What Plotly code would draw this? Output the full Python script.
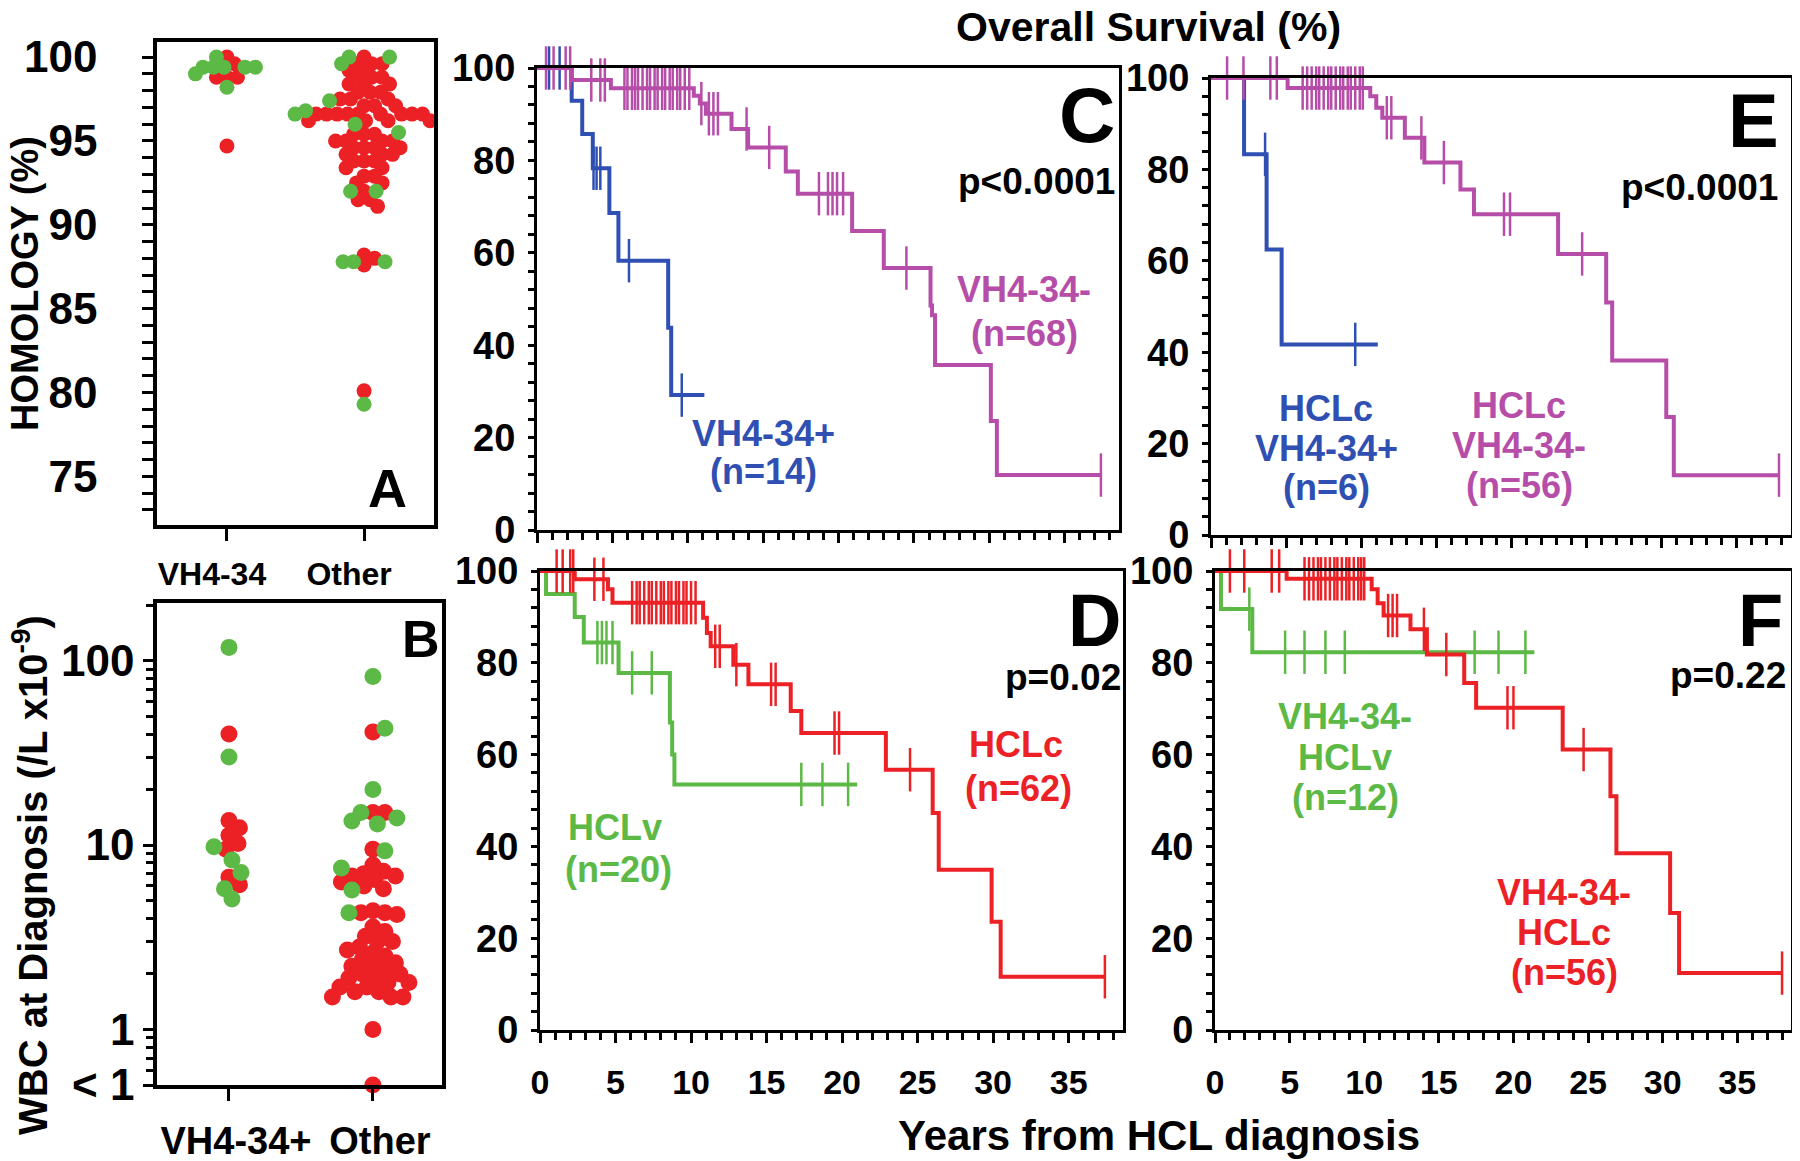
import numpy as np
import plotly.graph_objects as go

# The page body has an 8px margin, so the figure is drawn 8px smaller and
# all pixel positions below are page positions converted with that offset.
OFF = 8
W, H = 1800 - OFF, 1161 - OFF
FONT = "Liberation Sans, Arial, Helvetica, sans-serif"

GREEN = "#5DB946"
RED = "#EC2125"
MAGENTA = "#B64DA8"
BLUE = "#2F50B2"

# ---------------- Panel A: homology (%) ----------------
a_categories = ["VH4-34", "Other"]
a_vh_red = [100.0, 99.6, 98.8, 98.8, 98.8, 94.7]
a_vh_green = [100.0, 99.4, 99.4, 99.4, 99.4, 99.4, 99.0, 98.2]
a_oth_red = [100.0, 99.6, 99.6, 99.6, 99.2, 99.2, 98.8, 98.8, 98.8, 98.4, 98.4, 98.4,
             97.9, 97.9, 97.9, 97.5, 97.5, 97.5, 97.1, 97.1, 97.1,
             96.6, 96.6, 96.6, 96.6, 96.6, 96.6, 96.6, 96.6, 96.6,
             96.2, 96.2, 96.2, 96.2, 95.4, 95.4, 95.4, 95.0, 95.0, 95.0, 95.0,
             94.6, 94.6, 94.6, 94.6, 94.2, 94.2, 94.2, 93.8, 93.8, 93.8, 93.4, 93.4,
             92.9, 92.9, 92.5, 92.5, 92.0, 91.5, 91.5, 91.1,
             88.2, 88.0, 87.6, 80.1]
a_oth_green = [100.0, 100.0, 99.6, 97.4, 96.6, 96.0, 96.8, 95.5, 92.0, 92.0,
               87.8, 87.8, 87.8, 79.3]

# ---------------- Panel B: WBC at diagnosis ----------------
b_categories = ["VH4-34+", "Other"]
b_vh_red = [40, 13.6, 12.4, 11.3, 10.2, 9.5, 6.7, 6.1]
b_vh_green = [118, 30, 9.8, 8.3, 7.1, 5.8, 5.1]
b_oth_red = [41, 15, 15, 9.5, 7.8, 7.2, 7.0, 6.8, 6.8, 6.5, 6.3, 6.0, 5.8,
             4.4, 4.3, 4.3, 4.2, 3.6, 3.4, 3.2, 3.0, 3.0, 2.8, 2.7, 2.6, 2.5, 2.4,
             2.3, 2.2, 2.2, 2.1, 2.0, 2.0, 1.9, 1.9, 1.8, 1.8, 1.7, 1.7, 1.6, 1.6,
             1.5, 1.5, 1.5, 1.0, 0.5]
b_oth_green = [82, 43, 20, 15, 14, 13.5, 13, 9.3, 7.5, 5.7, 4.3]

# ---------------- Kaplan-Meier curves (years, % survival) ----------------
c_blue_t = [2.3, 3.0, 3.7, 4.8, 5.4, 8.7, 8.9]
c_blue_s = [92.9, 85.7, 78.3, 68.6, 58.3, 43.8, 29.2]
c_blue_end = 11.1
c_blue_cens = [0.8, 1.5, 3.75, 3.95, 4.2, 6.1, 9.6]

c_mag_t = [2.3, 4.9, 10.4, 10.8, 11.2, 12.9, 14.0, 16.5, 17.3, 20.9, 23.0, 26.1, 26.2, 26.4, 30.1, 30.5]
c_mag_s = [97.4, 95.6, 94.0, 92.3, 90.1, 86.8, 82.8, 77.6, 72.8, 64.7, 56.7, 48.6, 46.5, 35.7, 23.6, 11.9]
c_mag_end = 37.4
c_mag_cens = [0.6, 1.1, 1.9, 2.2, 3.6, 4.2, 4.5,
              5.8, 6.0, 6.3, 6.5, 6.7, 7.0, 7.3, 7.5, 7.8, 8.0, 8.3, 8.5, 8.8, 9.0, 9.3, 9.5, 9.8, 10.1,
              10.9, 11.4, 11.7, 12.0, 13.9, 15.4, 18.7, 19.3, 19.6, 19.9, 20.3, 24.5, 37.4]

d_green_t = [0.4, 2.3, 2.9, 5.2, 8.6, 8.75, 8.9]
d_green_s = [95.0, 90.0, 84.4, 77.8, 67.0, 60.0, 53.5]
d_green_end = 21.0
d_green_cens = [3.8, 4.1, 4.4, 4.8, 6.1, 7.4, 17.3, 18.7, 20.4]

d_red_t = [2.3, 4.5, 4.8, 10.8, 11.05, 11.3, 12.8, 13.8, 16.6, 17.3, 22.9, 26.0, 26.4, 29.9, 30.5]
d_red_s = [98.2, 96.0, 93.1, 89.8, 86.5, 83.6, 79.6, 75.3, 69.5, 64.7, 56.7, 47.3, 34.9, 23.6, 11.6]
d_red_end = 37.4
d_red_cens = [1.1, 1.5, 2.0, 2.2, 3.6, 4.2,
              6.1, 6.4, 6.6, 6.9, 7.2, 7.4, 7.7, 8.0, 8.2, 8.5, 8.7, 9.0, 9.2, 9.5, 9.7, 10.0, 10.3,
              11.6, 11.9, 13.0, 15.3, 15.6, 19.5, 19.8, 24.5, 37.4]

e_blue_t = [2.2, 3.7, 4.7]
e_blue_s = [83.3, 62.5, 41.7]
e_blue_end = 11.1
e_blue_cens = [3.6, 9.6]

e_mag_t = [5.1, 10.6, 11.0, 11.4, 12.9, 14.2, 16.6, 17.5, 23.1, 26.3, 26.7, 30.3, 30.8]
e_mag_s = [97.8, 96.0, 93.5, 91.3, 86.9, 81.5, 75.6, 70.2, 61.5, 50.9, 38.2, 25.8, 13.1]
e_mag_end = 37.8
e_mag_cens = [1.07, 2.16, 3.95, 4.38,
              6.1, 6.4, 6.7, 7.0, 7.2, 7.5, 7.8, 8.0, 8.3, 8.6, 8.8, 9.1, 9.3, 9.6, 9.9, 10.1,
              11.7, 12.0, 14.0, 15.5, 19.5, 19.9, 24.7, 37.8]

f_green_t = [0.4, 2.5]
f_green_s = [91.7, 82.3]
f_green_end = 21.4
f_green_cens = [2.3, 4.7, 6.0, 7.4, 8.7, 17.4, 19.0, 20.8]

f_red_t = [4.8, 10.5, 10.9, 11.3, 13.1, 14.2, 16.7, 17.5, 23.3, 26.5, 26.9, 30.5, 31.1]
f_red_s = [98.3, 96.0, 93.0, 90.3, 87.3, 81.8, 75.6, 70.2, 61.1, 50.9, 38.5, 25.5, 12.4]
f_red_end = 38.0
f_red_cens = [1.0, 1.96, 3.8, 4.3,
              6.0, 6.3, 6.6, 6.9, 7.1, 7.4, 7.7, 8.0, 8.2, 8.5, 8.8, 9.0, 9.3, 9.6, 9.8, 10.0,
              11.6, 11.9, 12.2, 14.0, 15.5, 19.6, 20.0, 24.7, 38.0]

km_xticks = [0, 5, 10, 15, 20, 25, 30, 35]
km_yticks = [0, 20, 40, 60, 80, 100]
a_yticks = [75, 80, 85, 90, 95, 100]
b_yticks = [0.5, 1, 10, 100]
b_yticktext = ["< 1", "1", "10", "100"]

# ---------------- layout geometry (page pixels) ----------------
BOX = {
    "A": (157, 434, 42, 525),
    "B": (157, 442, 603, 1085),
    "C": (537, 1119, 68, 530),
    "E": (1211, 1791, 78, 535),
    "D": (540, 1123, 571, 1030),
    "F": (1215, 1791, 571, 1030),
}
A_XR = [-0.51, 1.51]
A_YR = [72.1, 100.9]
B_XR = [-0.5, 1.48]
B_YR = [np.log10(0.5), 2.3125]
KM_XR = [0, 38.6]
KM_YR = [0, 100]


def px2x(px):
    return (px - OFF) / W


def px2y(py):
    return 1 - (py - OFF) / H


def dx(l, r):
    return [px2x(l), px2x(r)]


def dy(t, b):
    return [px2y(b), px2y(t)]


def swarm(groups, center, xpu, ypu, transform, d=11.0, step=1.5):
    """Beeswarm offsets computed in pixel space."""
    placed = []
    res = []
    for vals, col in groups:
        order = sorted(vals, reverse=True)
        xs = []
        for v in order:
            yp = transform(v) * ypu
            k = 0
            while True:
                cands = [0.0] if k == 0 else [k * step, -k * step]
                ok = None
                for c in cands:
                    if all((c - px) ** 2 + (yp - py) ** 2 >= d * d for px, py in placed):
                        ok = c
                        break
                if ok is not None:
                    placed.append((ok, yp))
                    xs.append(center + ok / xpu)
                    break
                k += 1
        res.append((xs, order, col))
    return res


fig = go.Figure()

# Panel A
a_xpu = (BOX["A"][1] - BOX["A"][0]) / (A_XR[1] - A_XR[0])
a_ypu = (BOX["A"][3] - BOX["A"][2]) / (A_YR[1] - A_YR[0])
for ci, (reds, greens) in enumerate([(a_vh_red, a_vh_green), (a_oth_red, a_oth_green)]):
    for xs, ys, col in swarm([(reds, RED), (greens, GREEN)], ci, a_xpu, a_ypu, lambda v: v, d=10.0):
        fig.add_trace(go.Scatter(x=xs, y=ys, mode="markers", xaxis="x", yaxis="y",
                                 marker=dict(color=col, size=15, line=dict(width=0)),
                                 showlegend=False, cliponaxis=False))

# Panel B
b_xpu = (BOX["B"][1] - BOX["B"][0]) / (B_XR[1] - B_XR[0])
b_ypu = (BOX["B"][3] - BOX["B"][2]) / (B_YR[1] - B_YR[0])
for ci, (reds, greens) in enumerate([(b_vh_red, b_vh_green), (b_oth_red, b_oth_green)]):
    for xs, ys, col in swarm([(reds, RED), (greens, GREEN)], ci, b_xpu, b_ypu, np.log10, d=12.0):
        fig.add_trace(go.Scatter(x=xs, y=ys, mode="markers", xaxis="x2", yaxis="y2",
                                 marker=dict(color=col, size=17, line=dict(width=0)),
                                 showlegend=False, cliponaxis=False))


def km(t, s, end, cens, col, xa, ya):
    xs = [0] + list(t) + [end]
    ys = [100] + list(s) + [s[-1]]
    fig.add_trace(go.Scatter(x=xs, y=ys, mode="lines", line=dict(color=col, width=4, shape="hv"),
                             xaxis=xa, yaxis=ya, showlegend=False, cliponaxis=False))
    tt = np.array(t)
    cy = []
    for c in cens:
        idx = np.searchsorted(tt, c, side="right") - 1
        cy.append(100 if idx < 0 else s[idx])
    fig.add_trace(go.Scatter(x=cens, y=cy, mode="markers", xaxis=xa, yaxis=ya, showlegend=False,
                             marker=dict(symbol="line-ns", size=31, line=dict(width=2.5, color=col)),
                             cliponaxis=False))


km(c_blue_t, c_blue_s, c_blue_end, c_blue_cens, BLUE, "x3", "y3")
km(c_mag_t, c_mag_s, c_mag_end, c_mag_cens, MAGENTA, "x3", "y3")
km(e_blue_t, e_blue_s, e_blue_end, e_blue_cens, BLUE, "x4", "y4")
km(e_mag_t, e_mag_s, e_mag_end, e_mag_cens, MAGENTA, "x4", "y4")
km(d_green_t, d_green_s, d_green_end, d_green_cens, GREEN, "x5", "y5")
km(d_red_t, d_red_s, d_red_end, d_red_cens, RED, "x5", "y5")
km(f_green_t, f_green_s, f_green_end, f_green_cens, GREEN, "x6", "y6")
km(f_red_t, f_red_s, f_red_end, f_red_cens, RED, "x6", "y6")


def tfont(size, color="black", family=FONT):
    return dict(family=family, size=size, color=color, weight="bold")


axis_common = dict(showline=True, linecolor="black", linewidth=3.5, mirror=True, ticks="outside",
                   tickcolor="black", showgrid=False, zeroline=False, fixedrange=True,
                   automargin=False)

layout = dict(width=W, height=H, margin=dict(l=0, r=0, t=0, b=0, autoexpand=False),
              paper_bgcolor="white", plot_bgcolor="white", showlegend=False)

# A axes
layout["xaxis"] = dict(axis_common, domain=dx(*BOX["A"][:2]), range=A_XR, anchor="y",
                       tickvals=[0, 1], ticktext=a_categories, ticklen=12, tickwidth=3,
                       tickfont=tfont(32), ticklabelstandoff=6, ticklabelshift=-15)
layout["yaxis"] = dict(axis_common, domain=dy(*BOX["A"][2:]), range=A_YR, anchor="x",
                       tickvals=a_yticks, ticklen=11, tickwidth=3, tickfont=tfont(44),
                       ticklabelstandoff=36,
                       minor=dict(dtick=1, tick0=0, ticklen=11, tickwidth=3, ticks="outside",
                                  tickcolor="black"))
# B axes
b_minor = [m * 10 ** e for e in (-1, 0, 1, 2) for m in range(2, 10) if 0.5 < m * 10 ** e < 205]
layout["xaxis2"] = dict(axis_common, domain=dx(*BOX["B"][:2]), range=B_XR, anchor="y2",
                        tickvals=[0, 1], ticktext=b_categories, ticklen=12, tickwidth=3,
                        tickfont=tfont(38), ticklabelstandoff=8, ticklabelshift=7)
layout["yaxis2"] = dict(axis_common, domain=dy(*BOX["B"][2:]), type="log", range=B_YR,
                        anchor="x2", tickvals=b_yticks, ticktext=b_yticktext, ticklen=10,
                        tickwidth=3, tickfont=tfont(44), ticklabelstandoff=0,
                        minor=dict(tickvals=b_minor, ticklen=7, tickwidth=2.5, ticks="outside",
                                   tickcolor="black"))


def km_axes(xn, yn, key, labels):
    l, r, t, b = BOX[key]
    layout["xaxis" + xn] = dict(axis_common, domain=dx(l, r), range=KM_XR, anchor="y" + yn,
                                tickvals=km_xticks, ticklen=10, tickwidth=2.5,
                                showticklabels=labels, tickfont=tfont(34),
                                ticklabelstandoff=10, linewidth=3,
                                minor=dict(dtick=1, tick0=0, ticklen=7, tickwidth=2.5,
                                           ticks="outside", tickcolor="black"))
    layout["yaxis" + yn] = dict(axis_common, domain=dy(t, b), range=KM_YR, anchor="x" + xn,
                                tickvals=km_yticks, ticklen=6, tickwidth=2.5, tickfont=tfont(38),
                                ticklabelstandoff=5, linewidth=3,
                                minor=dict(dtick=4, tick0=0, ticklen=6, tickwidth=2.5,
                                           ticks="outside", tickcolor="black"))


km_axes("3", "3", "C", False)
km_axes("4", "4", "E", False)
km_axes("5", "5", "D", True)
km_axes("6", "6", "F", True)

fig.update_layout(**layout)


def note(text, px, py, size, color="black", angle=0, xanchor="center"):
    fig.add_annotation(text=text, x=px2x(px), y=px2y(py), xref="paper", yref="paper",
                       showarrow=False, xanchor=xanchor, yanchor="middle", textangle=angle,
                       font=tfont(size, color))


note("Overall Survival (%)", 1148, 27, 41)
note("Years from HCL diagnosis", 1159, 1135, 42)
note("HOMOLOGY (%)", 25, 284, 38, angle=-90)
note("WBC at Diagnosis (/L x10<sup>-9</sup>)", 30, 875, 40, angle=-90)

note("A", 387, 488, 54)
note("B", 421, 639, 52)
note("C", 1087, 115, 78)
note("D", 1094, 620, 74)
note("E", 1753, 120, 76)
note("F", 1760, 620, 74)

note("p<0.0001", 1117, 181, 37, xanchor="right")
note("p<0.0001", 1780, 187, 37, xanchor="right")
note("p=0.02", 1123, 677, 37, xanchor="right")
note("p=0.22", 1788, 675, 37, xanchor="right")

note("VH4-34-", 1024, 289, 36, MAGENTA)
note("(n=68)", 1024, 333, 36, MAGENTA)
note("VH4-34+", 763, 433, 36, BLUE)
note("(n=14)", 763, 471, 36, BLUE)

note("HCLc", 1326, 408, 36, BLUE)
note("VH4-34+", 1326, 448, 36, BLUE)
note("(n=6)", 1326, 488, 36, BLUE)
note("HCLc", 1519, 405, 36, MAGENTA)
note("VH4-34-", 1519, 445, 36, MAGENTA)
note("(n=56)", 1519, 486, 36, MAGENTA)

note("HCLc", 1016, 744, 36, RED)
note("(n=62)", 1018, 788, 36, RED)
note("HCLv", 615, 827, 36, GREEN)
note("(n=20)", 618, 869, 36, GREEN)

note("VH4-34-", 1345, 716, 36, GREEN)
note("HCLv", 1345, 757, 36, GREEN)
note("(n=12)", 1345, 797, 36, GREEN)
note("VH4-34-", 1564, 892, 36, RED)
note("HCLc", 1564, 932, 36, RED)
note("(n=56)", 1564, 972, 36, RED)

fig.write_html("out.html")
